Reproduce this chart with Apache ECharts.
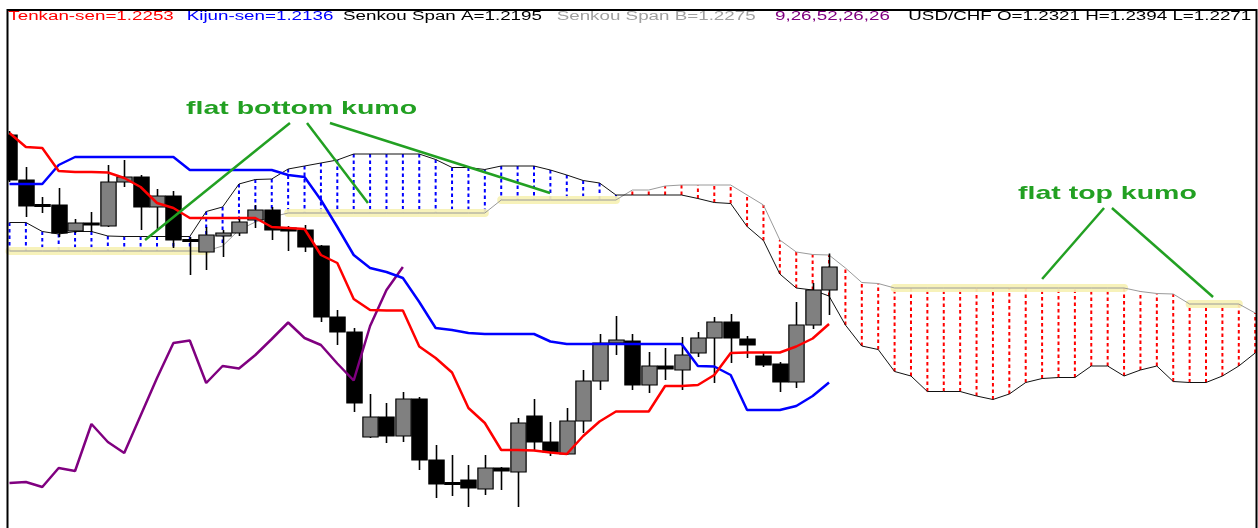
<!DOCTYPE html>
<html>
<head>
<meta charset="utf-8">
<script src="https://cdn.jsdelivr.net/npm/echarts@6/dist/echarts.min.js"></script>
<style>
html,body{margin:0;padding:0;background:#fff;}
#chart{width:1258px;height:528px;}
</style>
</head>
<body>
<div id="chart"></div>
<script>
// ---- data (USD/CHF, Ichimoku 9,26,52) ----
// bar index 0..50 = price bars, 51..76 = kumo projected 26 bars ahead
const bars = [0,1,2,3,4,5,6,7,8,9,10,11,12,13,14,15,16,17,18,19,20,21,22,23,24,25,26,27,28,29,30,31,32,33,34,35,36,37,38,39,40,41,42,43,44,45,46,47,48,49,50,51,52,53,54,55,56,57,58,59,60,61,62,63,64,65,66,67,68,69,70,71,72,73,74,75,76];

const opens = [1.2631,1.2541,1.2491,1.2491,1.2439,1.2455,1.2449,1.2537,1.2547,1.2487,
  1.2509,1.2421,1.2397,1.2429,1.2435,1.2461,1.2481,1.2445,1.2441,1.2409,
  1.2267,1.2237,1.2027,1.2067,1.2029,1.2103,1.1981,1.1935,1.1941,1.1923,
  1.1965,1.1957,1.2069,1.2017,1.1993,1.2059,1.2139,1.2215,1.2219,1.2131,
  1.2169,1.2161,1.2195,1.2225,1.2257,1.2223,1.2189,1.2173,1.2137,1.2251,1.2321];
const closes = [1.2541,1.2489,1.2489,1.2435,1.2455,1.2451,1.2537,1.2547,1.2487,1.2509,
  1.2421,1.2419,1.2431,1.2435,1.2457,1.2481,1.2441,1.2439,1.2407,1.2267,
  1.2237,1.2095,1.2067,1.2029,1.2103,1.1981,1.1933,1.1933,1.1925,1.1965,
  1.1959,1.2055,1.2017,1.1997,1.2059,1.2139,1.2215,1.2221,1.2131,1.2169,
  1.2163,1.2191,1.2225,1.2257,1.2225,1.2211,1.2171,1.2137,1.2251,1.2321,1.2367];
const lows = [1.2537,1.2467,1.2475,1.2427,1.2435,1.2437,1.2447,1.2527,1.2441,1.2441,
  1.2405,1.2351,1.2361,1.2387,1.2429,1.2445,1.2421,1.2399,1.2397,1.2257,
  1.2211,1.2077,1.2025,1.2015,1.2017,1.1961,1.1905,1.1909,1.1887,1.1911,
  1.1921,1.1887,1.2001,1.1989,1.1991,1.2035,1.2121,1.2191,1.2121,1.2115,
  1.2141,1.2121,1.2187,1.2135,1.2175,1.2185,1.2167,1.2117,1.2125,1.2243,1.2271];
const highs = [1.2639,1.2567,1.2507,1.2525,1.2463,1.2477,1.2571,1.2581,1.2551,1.2523,
  1.2519,1.2427,1.2447,1.2441,1.2463,1.2491,1.2487,1.2449,1.2451,1.2411,
  1.2281,1.2245,1.2113,1.2095,1.2117,1.2107,1.2011,1.1991,1.1971,1.1991,
  1.1967,1.2065,1.2103,1.2057,1.2085,1.2161,1.2233,1.2269,1.2233,1.2197,
  1.2205,1.2227,1.2237,1.2267,1.2273,1.2229,1.2195,1.2177,1.2297,1.2335,1.2394];

const tenkan = [1.2635,1.2607,1.2605,1.2559,1.2557,1.2557,1.2556,1.2545,1.2527,1.2495,
  1.2485,1.2465,1.2465,1.2465,1.2465,1.2465,1.2447,1.2445,1.2443,1.2391,
  1.2375,1.2303,1.2281,1.2280,1.2280,1.2208,1.2185,1.2156,1.2085,1.2055,
  1.2001,1.2001,1.2000,1.1996,1.1993,1.2029,1.2058,1.2078,1.2078,1.2078,
  1.2129,1.2129,1.2131,1.2151,1.2195,1.2196,1.2196,1.2196,1.2208,1.2224,1.2253];
const kijun = [1.2533,1.2533,1.2533,1.2571,1.2587,1.2587,1.2587,1.2587,1.2587,1.2587,
  1.2587,1.2561,1.2561,1.2561,1.2561,1.2561,1.2561,1.2551,1.2547,1.2501,
  1.2447,1.2391,1.2365,1.2357,1.2345,1.2297,1.2245,1.2241,1.2235,1.2233,
  1.2233,1.2233,1.2233,1.2218,1.2213,1.2213,1.2213,1.2213,1.2213,1.2213,
  1.2213,1.2213,1.2169,1.2168,1.2151,1.2081,1.2081,1.2081,1.2089,1.2109,1.2136];
const chikou = [1.1935,1.1937,1.1927,1.1965,1.1959,1.2053,1.2017,1.1995,1.2070,1.2145,
  1.2215,1.2220,1.2135,1.2169,1.2164,1.2191,1.2223,1.2256,1.2225,1.2211,
  1.2174,1.2140,1.2249,1.2321,1.2367];
const spanA = [1.2456,1.2456,1.2438,1.2433,1.2438,1.2438,1.2429,1.2428,1.2428,1.2428,
  1.2428,1.2428,1.2478,1.2487,1.2533,1.2542,1.2543,1.2563,1.2569,1.2575,
  1.2581,1.2593,1.2593,1.2593,1.2593,1.2593,1.2582,1.2566,1.2566,1.2562,
  1.2569,1.2569,1.2569,1.2561,1.2551,1.2540,1.2535,1.2511,1.2511,1.2511,
  1.2511,1.2511,1.2504,1.2496,1.2494,1.2448,1.2420,1.2353,1.2325,1.2321,
  1.2309,1.2251,1.2209,1.2202,1.2158,1.2149,1.2118,1.2118,1.2118,1.2109,
  1.2102,1.2113,1.2136,1.2144,1.2146,1.2146,1.2169,1.2169,1.2149,1.2161,
  1.2169,1.2138,1.2136,1.2136,1.2149,1.2169,1.2195];
const spanB = [1.2399,1.2399,1.2399,1.2399,1.2399,1.2399,1.2399,1.2399,1.2399,1.2399,
  1.2399,1.2399,1.2399,1.2409,1.2441,1.2457,1.2467,1.2475,1.2475,1.2475,
  1.2475,1.2475,1.2475,1.2475,1.2475,1.2475,1.2475,1.2475,1.2475,1.2475,
  1.2501,1.2501,1.2501,1.2501,1.2501,1.2501,1.2501,1.2501,1.2521,1.2521,
  1.2529,1.2531,1.2531,1.2531,1.2531,1.2511,1.2491,1.2421,1.2397,1.2392,
  1.2391,1.2365,1.2336,1.2334,1.2325,1.2325,1.2325,1.2325,1.2325,1.2325,
  1.2325,1.2325,1.2325,1.2325,1.2325,1.2325,1.2325,1.2325,1.2325,1.2318,
  1.2314,1.2313,1.2293,1.2293,1.2293,1.2293,1.2275];

// flat kumo stretches highlighted (bar index ranges on Senkou Span B)
const flatRanges = [[0,12],[17,29],[30,37],[54,68],[72,75]];

// annotation pointer lines: [barIndex, price] endpoints
const bottomPointers = [[[17.11,1.2655],[8.27,1.2421]],[[18.15,1.2655],[21.87,1.2495]],[[19.55,1.2655],[32.98,1.2515]]];
const topPointers = [[[66.78,1.2485],[63.00,1.2343]],[[67.26,1.2485],[73.43,1.2307]]];

const titleParts = [
  {text:'Tenkan-sen=1.2253', color:'#ff0000', x:8.3},
  {text:'Kijun-sen=1.2136', color:'#0000ff', x:186.7},
  {text:'Senkou Span A=1.2195', color:'#000000', x:343},
  {text:'Senkou Span B=1.2275', color:'#a0a0a0', x:556.7},
  {text:'9,26,52,26,26', color:'#800080', x:775},
  {text:'USD/CHF O=1.2321 H=1.2394 L=1.2271', color:'#000000', x:908.3}
];

// ---- chart ----
const chart = echarts.init(document.getElementById('chart'), null, {renderer:'canvas'});
const FONT = '"Liberation Sans", Arial, sans-serif';

const candleData = opens.map((o,i)=>[bars[i], o, closes[i], lows[i], highs[i]]);
const cloudData = spanA.map((a,i)=>[bars[i], a, spanB[i]]);
const pairs = arr => arr.map((v,i)=>[bars[i], v]);

const series = [];

series.push({
  type:'custom', name:'kumo', clip:true, z:1,
  encode:{x:0, y:[1,2]},
  data: cloudData,
  renderItem:(params, api)=>{
    const k = api.value(0), a = api.value(1), b = api.value(2);
    const pa = api.coord([k,a]), pb = api.coord([k,b]);
    return {type:'line', shape:{x1:pa[0], y1:pa[1], x2:pb[0], y2:pb[1]},
      style:{stroke: a>=b ? '#0000ff' : '#ff0000', lineWidth:2, lineDash:[3.5,3]}};
  }
});

flatRanges.forEach(r=>{
  const d = [];
  for (let i=r[0]; i<=r[1]; i++) d.push([bars[i], spanB[i]]);
  series.push({type:'line', data:d, symbol:'none', silent:true, z:2,
    lineStyle:{color:'#f6f1b4', width:8, opacity:0.92, cap:'round', join:'round'}});
});

series.push({type:'line', name:'Senkou Span B', data:pairs(spanB), symbol:'none', z:3,
  lineStyle:{color:'#9a9a9a', width:1}});
series.push({type:'line', name:'Senkou Span A', data:pairs(spanA), symbol:'none', z:3,
  lineStyle:{color:'#111111', width:1}});

series.push({
  type:'custom', name:'USD/CHF', clip:true, z:4,
  encode:{x:0, y:[1,2,3,4]},
  data: candleData,
  renderItem:(params, api)=>{
    const k = api.value(0), o = api.value(1), c = api.value(2), l = api.value(3), h = api.value(4);
    const po = api.coord([k,o]), pc = api.coord([k,c]), pl = api.coord([k,l]), ph = api.coord([k,h]);
    const w = api.size([1,0])[0]*0.93;
    const x = Math.round(po[0]) + 0.5;
    let top = Math.min(po[1], pc[1]), bot = Math.max(po[1], pc[1]);
    if (bot - top < 2) { const m = (top+bot)/2; top = m-1; bot = m+1; }
    return {type:'group', children:[
      {type:'line', shape:{x1:x, y1:ph[1], x2:x, y2:pl[1]}, style:{stroke:'#000', lineWidth:1.6}},
      {type:'rect', shape:{x:x-w/2, y:top, width:w, height:bot-top},
        style:{fill: c>o ? '#808080' : '#000000', stroke:'#000', lineWidth:1.2}}
    ]};
  }
});

series.push({type:'line', name:'Chikou', data:pairs(chikou), symbol:'none', z:5,
  lineStyle:{color:'#800080', width:2.5}});
series.push({type:'line', name:'Kijun-sen', data:pairs(kijun), symbol:'none', z:6,
  lineStyle:{color:'#0000ff', width:2.5}});
series.push({type:'line', name:'Tenkan-sen', data:pairs(tenkan), symbol:'none', z:7,
  lineStyle:{color:'#ff0000', width:2.5}});

bottomPointers.concat(topPointers).forEach(seg=>{
  series.push({type:'line', data:seg, symbol:'none', silent:true, z:8, clip:false,
    lineStyle:{color:'#22a022', width:2.5}});
});

const graphic = [
  {type:'rect', z:100, silent:true, shape:{x:7.5, y:10, width:1249, height:600},
    style:{fill:'none', stroke:'#000', lineWidth:2}},
  {type:'text', z:100, silent:true, x:186, y:108.5, scaleX:1.54,
    style:{text:'flat bottom kumo', font:'bold 18.5px '+FONT, fill:'#22a022', verticalAlign:'middle', textVerticalAlign:'middle'}},
  {type:'text', z:100, silent:true, x:1018, y:193.5, scaleX:1.54,
    style:{text:'flat top kumo', font:'bold 18.5px '+FONT, fill:'#22a022', verticalAlign:'middle', textVerticalAlign:'middle'}}
];
titleParts.forEach(t=>{
  graphic.push({type:'text', z:100, silent:true, x:t.x, y:16.5, scaleX:1.565,
    style:{text:t.text, font:'12px '+FONT, fill:t.color, verticalAlign:'middle', textVerticalAlign:'middle'}});
});

chart.setOption({
  animation:false,
  backgroundColor:'#ffffff',
  grid:{left:8.5, right:2, top:9, bottom:0, containLabel:false},
  xAxis:{type:'value', min:-0.061, max:76.05, show:false, splitLine:{show:false}},
  yAxis:{type:'value', min:1.1845, max:1.2883, show:false, splitLine:{show:false}},
  series: series,
  graphic: graphic
});
</script>
</body>
</html>
